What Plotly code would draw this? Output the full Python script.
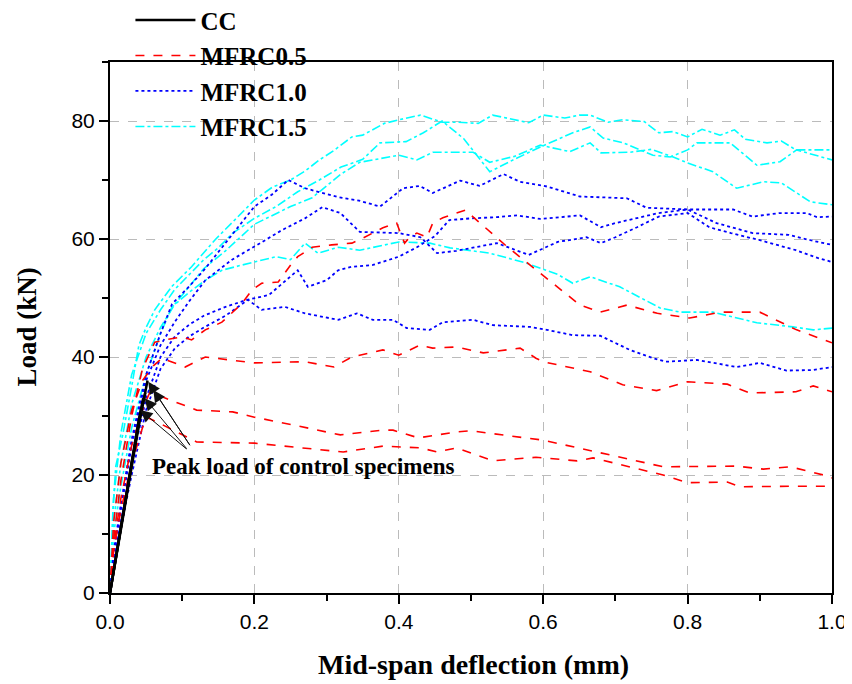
import plotly.graph_objects as go

# ---------------- data ----------------
# CC (control) specimens
cc1_x = [0, 0.01, 0.02, 0.03, 0.04, 0.052]
cc1_y = [0, 7, 14.5, 21.5, 28.5, 36]
cc2_x = [0, 0.01, 0.02, 0.03, 0.04, 0.049]
cc2_y = [0, 7.5, 15, 22, 29, 34]
cc3_x = [0, 0.01, 0.02, 0.03, 0.04, 0.046]
cc3_y = [0, 7.5, 15, 22.5, 29.5, 33]
cc4_x = [0, 0.01, 0.02, 0.03, 0.04, 0.043]
cc4_y = [0, 7.5, 15, 22, 28.5, 31]

# MFRC0.5
r1_x = [0, 0.005, 0.015, 0.03, 0.045, 0.062, 0.08, 0.1, 0.113, 0.132, 0.155, 0.183, 0.197, 0.21, 0.233,
        0.252, 0.26, 0.28, 0.307, 0.335, 0.351, 0.378, 0.397, 0.408, 0.415, 0.425, 0.439, 0.447, 0.461,
        0.492, 0.55, 0.596, 0.651, 0.679, 0.716, 0.758, 0.803, 0.845, 0.9, 0.951, 1.0]
r1_y = [0, 9, 19, 30, 38, 42.5, 43, 43.4, 42.9, 44.6, 45.9, 49.1, 51.4, 52.5, 52.7,
        55.9, 57, 58.6, 59, 59.3, 60.2, 61.9, 62.7, 59.3, 60.3, 61, 60.3, 62.7, 63.6,
        64.9, 58.7, 54.2, 48.8, 47.6, 48.8, 47.4, 46.6, 47.6, 47.6, 44.6, 42.4]
r2_x = [0, 0.005, 0.015, 0.03, 0.045, 0.06, 0.072, 0.104, 0.132, 0.2, 0.27, 0.31, 0.335, 0.346, 0.378,
        0.4, 0.429, 0.447, 0.48, 0.517, 0.568, 0.59, 0.6, 0.665, 0.71, 0.757, 0.8, 0.855, 0.886, 0.95,
        0.974, 1.0]
r2_y = [0, 12, 22, 31, 36, 38.5, 39.8, 38.3, 40, 39, 39.2, 38.3, 40, 40.3, 41.2,
        40.3, 42, 41.5, 41.7, 40.7, 41.5, 39.8, 39.2, 37.5, 35.3, 34.3, 35.8, 35.4, 33.9, 34.1,
        35.1, 34.1]
r3_x = [0, 0.005, 0.015, 0.03, 0.045, 0.055, 0.073, 0.12, 0.17, 0.2, 0.253, 0.319, 0.378, 0.392, 0.427,
        0.48, 0.499, 0.6, 0.674, 0.766, 0.868, 0.905, 0.942, 0.988, 1.0]
r3_y = [0, 8, 16, 25, 31, 34, 33.2, 31, 30.7, 29.8, 28.5, 26.8, 27.6, 27.6, 26.3,
        27.3, 27.5, 25.9, 23.9, 21.4, 21.5, 21, 21.4, 20, 19.5]
r4_x = [0, 0.005, 0.015, 0.03, 0.045, 0.051, 0.073, 0.12, 0.2, 0.267, 0.323, 0.378, 0.43, 0.453, 0.48,
        0.53, 0.59, 0.647, 0.669, 0.766, 0.8, 0.855, 0.872, 0.95, 1.0]
r4_y = [0, 7, 14, 22, 28, 29.8, 28.5, 25.6, 25.4, 24.6, 23.9, 24.9, 24.6, 23.9, 24.6,
        22.4, 23, 22.4, 22.9, 20, 18.7, 18.8, 18, 18.1, 18.1]

# MFRC1.0
b1_x = [0, 0.005, 0.015, 0.03, 0.05, 0.07, 0.086, 0.11, 0.132, 0.155, 0.177, 0.2, 0.224, 0.247, 0.27,
        0.316, 0.345, 0.374, 0.406, 0.429, 0.447, 0.485, 0.512, 0.545, 0.568, 0.605, 0.651, 0.716, 0.743,
        0.803, 0.863, 0.89, 0.928, 0.965, 0.979, 1.0]
b1_y = [0, 7, 15, 26, 37, 44, 49, 52, 55, 58.5, 62, 65.5, 67.5, 70, 68.6,
        67.1, 66.5, 65.5, 68.6, 69, 67.8, 69.9, 69, 71, 69.7, 68.9, 67.2, 66.9, 65.3,
        65, 65, 63.8, 64.4, 64.4, 63.7, 63.8]
b2_x = [0, 0.005, 0.015, 0.03, 0.05, 0.07, 0.09, 0.11, 0.132, 0.169, 0.215, 0.238, 0.27, 0.294, 0.319,
        0.346, 0.4, 0.43, 0.453, 0.48, 0.536, 0.58, 0.62, 0.66, 0.68, 0.7, 0.73, 0.76, 0.8, 0.83,
        0.86, 0.9, 0.95, 0.98, 1.0]
b2_y = [0, 6, 14, 25, 36, 42, 46, 49.5, 53, 56.5, 59.8, 61.5, 63.5, 65.4, 64.4,
        61.2, 61, 60.3, 57.6, 58, 59.3, 57.3, 59.5, 60.3, 59.3, 60.3, 62, 63.8, 64.4, 62,
        61, 59.8, 58.1, 56.8, 56.1]
b3_x = [0, 0.005, 0.015, 0.03, 0.05, 0.07, 0.09, 0.11, 0.13, 0.16, 0.19, 0.22, 0.26, 0.274, 0.3,
        0.316, 0.335, 0.364, 0.4, 0.425, 0.45, 0.47, 0.5, 0.536, 0.564, 0.596, 0.651, 0.68, 0.7, 0.73,
        0.76, 0.8, 0.84, 0.89, 0.94, 0.97, 1.0]
b3_y = [0, 5, 12, 22, 33, 40, 43.5, 45.5, 47, 48.5, 49.7, 50.5, 54.7, 51.9, 53,
        54.7, 55.3, 55.6, 57, 58.6, 60.5, 63.2, 63.5, 63.7, 64, 63.4, 64, 62, 62.7, 63.6,
        64.4, 65, 62.7, 61, 60.7, 59.8, 59]
b4_x = [0, 0.005, 0.015, 0.03, 0.05, 0.07, 0.09, 0.11, 0.13, 0.16, 0.191, 0.21, 0.242, 0.27, 0.316,
        0.342, 0.364, 0.392, 0.411, 0.443, 0.461, 0.503, 0.53, 0.582, 0.605, 0.641, 0.679, 0.72, 0.752,
        0.77, 0.813, 0.868, 0.9, 0.937, 0.974, 1.0]
b4_y = [0, 5, 11, 20, 31, 38, 41.5, 43.5, 45, 47, 49.7, 48, 48.5, 47.4, 46.3,
        47.4, 46.3, 46.3, 44.9, 44.6, 45.9, 46.3, 45.4, 45.1, 44.6, 43.7, 43.6, 41.2, 39.8,
        39.2, 39.5, 38.3, 39, 37.7, 37.8, 38.3]

# MFRC1.5
c1_x = [0, 0.004, 0.008, 0.018, 0.03, 0.04, 0.05, 0.062, 0.086, 0.113, 0.145, 0.177, 0.2, 0.225, 0.25,
        0.27, 0.29, 0.31, 0.335, 0.35, 0.38, 0.4, 0.43, 0.46, 0.48, 0.51, 0.53, 0.58, 0.6, 0.63,
        0.65, 0.665, 0.69, 0.71, 0.74, 0.76, 0.78, 0.8, 0.82, 0.845, 0.865, 0.88, 0.91, 0.93, 0.95, 1.0]
c1_y = [0, 14, 21.5, 27, 35, 42, 45, 48, 52, 55.3, 59.8, 63.7, 66.6, 68.8, 70,
        71.5, 73.4, 75, 77.3, 77.6, 79.6, 80.2, 81, 79.8, 79.8, 79.6, 81, 79.7, 81, 80.5,
        81, 81, 79.8, 80.2, 79.9, 78, 78.2, 77.3, 78.6, 77.6, 78.5, 76.9, 76.3, 76.6, 75.1, 75.1]
c2_x = [0, 0.005, 0.015, 0.03, 0.05, 0.07, 0.09, 0.11, 0.13, 0.15, 0.17, 0.2, 0.23, 0.26, 0.29,
        0.32, 0.35, 0.374, 0.41, 0.434, 0.46, 0.49, 0.526, 0.56, 0.596, 0.641, 0.665, 0.683, 0.711,
        0.734, 0.752, 0.776, 0.8, 0.813, 0.859, 0.896, 0.928, 0.951, 1.0]
c2_y = [0, 16, 27, 37, 44, 48, 51.5, 54, 56.5, 58.5, 61, 63.5, 65.5, 68, 70,
        72.2, 73.5, 76.3, 76.5, 78, 80, 77, 71.4, 73.5, 75.6, 78, 79, 77.1, 76.3,
        75.1, 74.2, 73.9, 75.1, 76.3, 76.3, 72.5, 73.1, 75.1, 73.4]
c3_x = [0, 0.005, 0.015, 0.03, 0.05, 0.07, 0.09, 0.11, 0.13, 0.16, 0.2, 0.25, 0.28, 0.32, 0.346,
        0.4, 0.425, 0.447, 0.503, 0.526, 0.56, 0.596, 0.637, 0.665, 0.68, 0.72, 0.75, 0.78, 0.8,
        0.835, 0.868, 0.905, 0.93, 0.97, 1.0]
c3_y = [0, 12, 22, 32, 40, 45, 49, 52, 55, 58, 62.5, 65.5, 67, 71, 73,
        74.2, 73.4, 74.7, 74.7, 73, 74, 75.9, 74.8, 76.3, 74.6, 74.7, 75.2, 73.9, 72.9,
        71.4, 68.6, 69.7, 69.5, 66.3, 65.8]
c4_x = [0, 0.005, 0.015, 0.03, 0.05, 0.07, 0.086, 0.11, 0.132, 0.155, 0.18, 0.2, 0.23, 0.25, 0.27,
        0.288, 0.316, 0.346, 0.4, 0.443, 0.471, 0.526, 0.577, 0.62, 0.641, 0.665, 0.706, 0.762, 0.79,
        0.835, 0.896, 0.946, 0.974, 1.0]
c4_y = [0, 10, 18, 28, 37, 44, 48.5, 51, 53, 54.7, 55.5, 56.1, 57, 56.5, 59.3,
        57.6, 58.6, 58.1, 59.5, 59.3, 58.5, 57.6, 55.9, 54, 52.5, 53.6, 51.9, 48.3, 47.6,
        47.6, 45.8, 45.1, 44.6, 44.9]

# peak-load arrows (tip x, tip y) and tails
arrow_tip_x = [0.053, 0.060, 0.048, 0.042]
arrow_tip_y = [35.8, 34.4, 33.0, 31.0]
arrow_tail_x = [0.112, 0.112, 0.108, 0.108]
arrow_tail_y = [24.8, 24.8, 24.2, 24.2]
note_text = "Peak load of control specimens"
note_x, note_y = 0.267, 21.4

x_title = "Mid-span deflection (mm)"
y_title = "Load (kN)"
x_ticks = [0.0, 0.2, 0.4, 0.6, 0.8, 1.0]
y_ticks = [0, 20, 40, 60, 80]

# ---------------- figure ----------------
SERIF = "Liberation Serif, Times New Roman, serif"
SANS = "Liberation Sans, Arial, sans-serif"

fig = go.Figure()

groups = [
    ("MFRC1.5", [(c1_x, c1_y), (c2_x, c2_y), (c3_x, c3_y), (c4_x, c4_y)],
     dict(color="#00FFFF", width=1.6, dash="dashdot"), 4),
    ("MFRC1.0", [(b1_x, b1_y), (b2_x, b2_y), (b3_x, b3_y), (b4_x, b4_y)],
     dict(color="#0000FF", width=1.8, dash="dot"), 3),
    ("MFRC0.5", [(r1_x, r1_y), (r2_x, r2_y), (r3_x, r3_y), (r4_x, r4_y)],
     dict(color="#FF0000", width=1.6, dash="dash"), 2),
    ("CC", [(cc1_x, cc1_y), (cc2_x, cc2_y), (cc3_x, cc3_y), (cc4_x, cc4_y)],
     dict(color="#000000", width=2.5, dash="solid"), 1),
]
for name, curves, line, rank in groups:
    for i, (xs, ys) in enumerate(curves):
        fig.add_trace(go.Scatter(
            x=xs, y=ys, mode="lines", name=name, legendgroup=name,
            showlegend=(i == 0), legendrank=rank, line=line,
            hoverinfo="skip"))

for tx, ty, ax_, ay_ in zip(arrow_tip_x, arrow_tip_y, arrow_tail_x, arrow_tail_y):
    fig.add_annotation(x=tx, y=ty, ax=ax_, ay=ay_, xref="x", yref="y",
                       axref="x", ayref="y", showarrow=True, text="",
                       arrowhead=2, arrowsize=2.4, arrowwidth=1,
                       arrowcolor="#111111")

fig.add_annotation(x=note_x, y=note_y, xref="x", yref="y", text="<b>" + note_text + "</b>",
                   showarrow=False, font=dict(family=SERIF, size=23, color="black"))

# axis titles as paper-anchored texts
fig.add_annotation(x=0.503, y=-0.134, xref="paper", yref="paper", xanchor="center",
                   yanchor="middle", showarrow=False, text="<b>" + x_title + "</b>",
                   font=dict(family=SERIF, size=28, color="black"))
fig.add_annotation(x=-0.1163, y=0.5, xref="paper", yref="paper", xanchor="center",
                   yanchor="middle", showarrow=False, textangle=-90, borderpad=0,
                   text="<b>" + y_title + "</b>",
                   font=dict(family=SERIF, size=27, color="black"))

axis_common = dict(
    showline=True, linecolor="black", linewidth=2, mirror=True,
    ticks="outside", ticklen=9, tickwidth=1.5, tickcolor="black",
    showgrid=True, gridcolor="#BBBBBB", gridwidth=1, griddash="dash",
    zeroline=False, automargin=False,
    tickfont=dict(family=SANS, size=21, color="black"),
)

fig.update_xaxes(range=[0, 1], tickvals=x_ticks, ticktext=[f"{v:.1f}" for v in x_ticks],
                 minor=dict(dtick=0.1, tick0=0, ticks="outside", ticklen=6, tickwidth=1.5,
                            tickcolor="black", showgrid=False),
                 **axis_common)
fig.update_yaxes(range=[0, 90], tickvals=y_ticks,
                 minor=dict(dtick=10, tick0=0, ticks="outside", ticklen=6, tickwidth=1.5,
                            tickcolor="black", showgrid=False),
                 **axis_common)

# the page has an 8 px body margin, so the figure is 8 px smaller and margins shifted
fig.update_layout(
    width=844, height=676,
    margin=dict(l=102, r=20, t=54, b=91, autoexpand=False),
    paper_bgcolor="white", plot_bgcolor="white",
    showlegend=True,
    legend=dict(x=0.0283, y=1.122, xanchor="left", yanchor="top",
                bgcolor="rgba(0,0,0,0)", borderwidth=0,
                font=dict(family=SERIF, size=25, color="black", weight="bold"),
                traceorder="normal", tracegroupgap=0, itemwidth=60),
)

fig.write_html("out.html")
